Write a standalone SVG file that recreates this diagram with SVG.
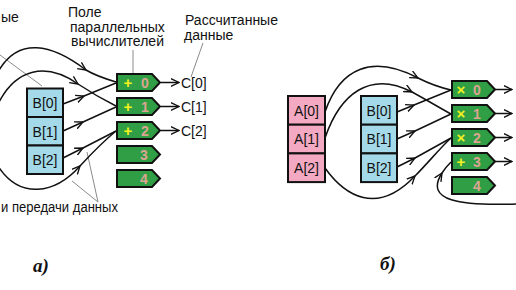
<svg xmlns="http://www.w3.org/2000/svg" xmlns:xlink="http://www.w3.org/1999/xlink" width="516" height="290" viewBox="0 0 516 290">
<style>
text{font-family:"Liberation Sans",Arial,sans-serif;font-size:14px;fill:#111}
.cell{stroke:#111;stroke-width:2}
.a{fill:#f4a9c2}
.b{fill:#a3d9e8}
.pe{fill:#2f9e45;stroke:#111;stroke-width:2;stroke-linejoin:miter}
.op{font-weight:bold;fill:#f2f21e;font-size:15px}
.dg{font-weight:bold;fill:#dba591;font-size:14px}
.w{fill:none;stroke:#111;stroke-width:1.5;marker-mid:url(#ah)}
.o{fill:none;stroke:#111;stroke-width:1.5;marker-end:url(#ah)}
.lead{fill:none;stroke:#8a8a8a;stroke-width:1}
.cap{font-family:"Liberation Serif","Times New Roman",serif;font-weight:bold;font-style:italic;font-size:19px}
</style>
<defs>
<marker id="ah" viewBox="0 0 10 10" refX="9" refY="5" markerWidth="9" markerHeight="9" markerUnits="userSpaceOnUse" orient="auto">
<path d="M0,0.8 L9,5 L0,9.2" fill="none" stroke="#111" stroke-width="1.5"/>
</marker>
<path id="pe" d="M0,0 H35 L43,8.5 L35,17 H0 Z"/>
</defs>
<rect width="516" height="290" fill="#fff"/>

<!-- labels -->
<g id="labels">
<text x="1" y="22">ые</text>
<text x="68" y="17">Поле</text>
<text x="70" y="31.5">параллельных</text>
<text x="71" y="46">вычислителей</text>
<text x="185" y="25">Рассчитанные</text>
<text x="184" y="39.5">данные</text>
<text x="1" y="212" textLength="117" lengthAdjust="spacingAndGlyphs">и передачи данных</text>
<text class="cap" x="33" y="272">а)</text>
<text class="cap" x="380" y="270">б)</text>
</g>

<g id="leaders">
<path class="lead" d="M0,55 L42,86"/>
<path class="lead" d="M133,50 V73"/>
<path class="lead" d="M203,43 L191,77"/>
<path class="lead" d="M98,202 L87,152 M98,202 L72,181"/>
</g>

<!-- left panel -->
<g id="left-b0"><rect class="cell b" x="27" y="88.5" width="36" height="28.5"/><text x="45" y="108" text-anchor="middle">B[0]</text></g>
<g id="left-b1"><rect class="cell b" x="27" y="117" width="36" height="28.5"/><text x="45" y="136.5" text-anchor="middle">B[1]</text></g>
<g id="left-b2"><rect class="cell b" x="27" y="145.5" width="36" height="28.5"/><text x="45" y="165" text-anchor="middle">B[2]</text></g>

<g id="left-pe0"><use xlink:href="#pe" class="pe" x="117" y="74"/><text class="op" x="128" y="88" text-anchor="middle">+</text><text class="dg" x="145" y="87.5" text-anchor="middle">0</text></g>
<g id="left-pe1"><use xlink:href="#pe" class="pe" x="117" y="98"/><text class="op" x="128" y="112" text-anchor="middle">+</text><text class="dg" x="145" y="111.5" text-anchor="middle">1</text></g>
<g id="left-pe2"><use xlink:href="#pe" class="pe" x="117" y="122"/><text class="op" x="128" y="136" text-anchor="middle">+</text><text class="dg" x="145" y="135.5" text-anchor="middle">2</text></g>
<g id="left-pe3"><use xlink:href="#pe" class="pe" x="117" y="146"/><text class="dg" x="144" y="159.5" text-anchor="middle">3</text></g>
<g id="left-pe4"><use xlink:href="#pe" class="pe" x="117" y="170"/><text class="dg" x="144" y="183.5" text-anchor="middle">4</text></g>

<g id="left-out">
<text x="181" y="88">C[0]</text>
<text x="181" y="112">C[1]</text>
<text x="181" y="136">C[2]</text>
</g>

<!-- right panel -->
<g id="right-a0"><rect class="cell a" x="288" y="96" width="37" height="28.7"/><text x="306.5" y="115.5" text-anchor="middle">A[0]</text></g>
<g id="right-a1"><rect class="cell a" x="288" y="124.7" width="37" height="28.7"/><text x="306.5" y="144" text-anchor="middle">A[1]</text></g>
<g id="right-a2"><rect class="cell a" x="288" y="153.4" width="37" height="28.7"/><text x="306.5" y="173" text-anchor="middle">A[2]</text></g>

<g id="right-b0"><rect class="cell b" x="361" y="96" width="36" height="28.7"/><text x="379" y="115.5" text-anchor="middle">B[0]</text></g>
<g id="right-b1"><rect class="cell b" x="361" y="124.7" width="36" height="28.7"/><text x="379" y="144" text-anchor="middle">B[1]</text></g>
<g id="right-b2"><rect class="cell b" x="361" y="153.4" width="36" height="28.7"/><text x="379" y="173" text-anchor="middle">B[2]</text></g>

<g id="right-pe0"><use xlink:href="#pe" class="pe" x="452" y="81"/><text class="op" x="461" y="95" text-anchor="middle">×</text><text class="dg" x="477" y="94.5" text-anchor="middle">0</text></g>
<g id="right-pe1"><use xlink:href="#pe" class="pe" x="452" y="105"/><text class="op" x="461" y="119" text-anchor="middle">×</text><text class="dg" x="477" y="118.5" text-anchor="middle">1</text></g>
<g id="right-pe2"><use xlink:href="#pe" class="pe" x="452" y="129"/><text class="op" x="461" y="143" text-anchor="middle">×</text><text class="dg" x="477" y="142.5" text-anchor="middle">2</text></g>
<g id="right-pe3"><use xlink:href="#pe" class="pe" x="452" y="153"/><text class="op" x="461" y="167" text-anchor="middle">+</text><text class="dg" x="477" y="166.5" text-anchor="middle">3</text></g>
<g id="right-pe4"><use xlink:href="#pe" class="pe" x="452" y="177"/><text class="dg" x="477" y="190.5" text-anchor="middle">4</text></g>

<!-- connectors -->
<g id="connectors">
<path class="w" d="M-2,72 C18,36 52,44 86,70 C96,76 106,79 116,82"/>
<path class="w" d="M-2,104 C16,68 46,62 78,84 C90,92 104,100 116,106"/>
<path class="w" d="M-2,166 C20,200 55,194 80,166 C92,153 105,140 116,131"/>
<path class="w" d="M63,104 L84,96 L116,83"/>
<path class="w" d="M63,131 L83,122 L116,107"/>
<path class="w" d="M63,158 L83,148 L116,131"/>
<path class="o" d="M161,82.5 H179"/>
<path class="o" d="M161,106.5 H179"/>
<path class="o" d="M161,130.5 H179"/>

<path class="w" d="M325,112 C340,68 372,54 418,78 C430,84 442,88 451,90"/>
<path class="w" d="M325,138 C340,94 370,70 412,92 C425,99 440,108 451,114"/>
<path class="w" d="M325,168 C345,196 377,216 415,176 C428,163 440,148 451,138"/>
<path class="w" d="M397,112 L414,105 L451,90"/>
<path class="w" d="M397,139 L415,131 L451,114"/>
<path class="w" d="M397,167 L415,158 L451,138"/>
<path class="w" d="M517,204 C460,206 424,201 442,173 C445,168 448,165 451,162"/>
<path class="o" d="M495,89.5 H512"/>
<path class="o" d="M495,113.5 H512"/>
<path class="o" d="M495,137.5 H512"/>
<path class="o" d="M495,161.5 H512"/>
</g>
</svg>
